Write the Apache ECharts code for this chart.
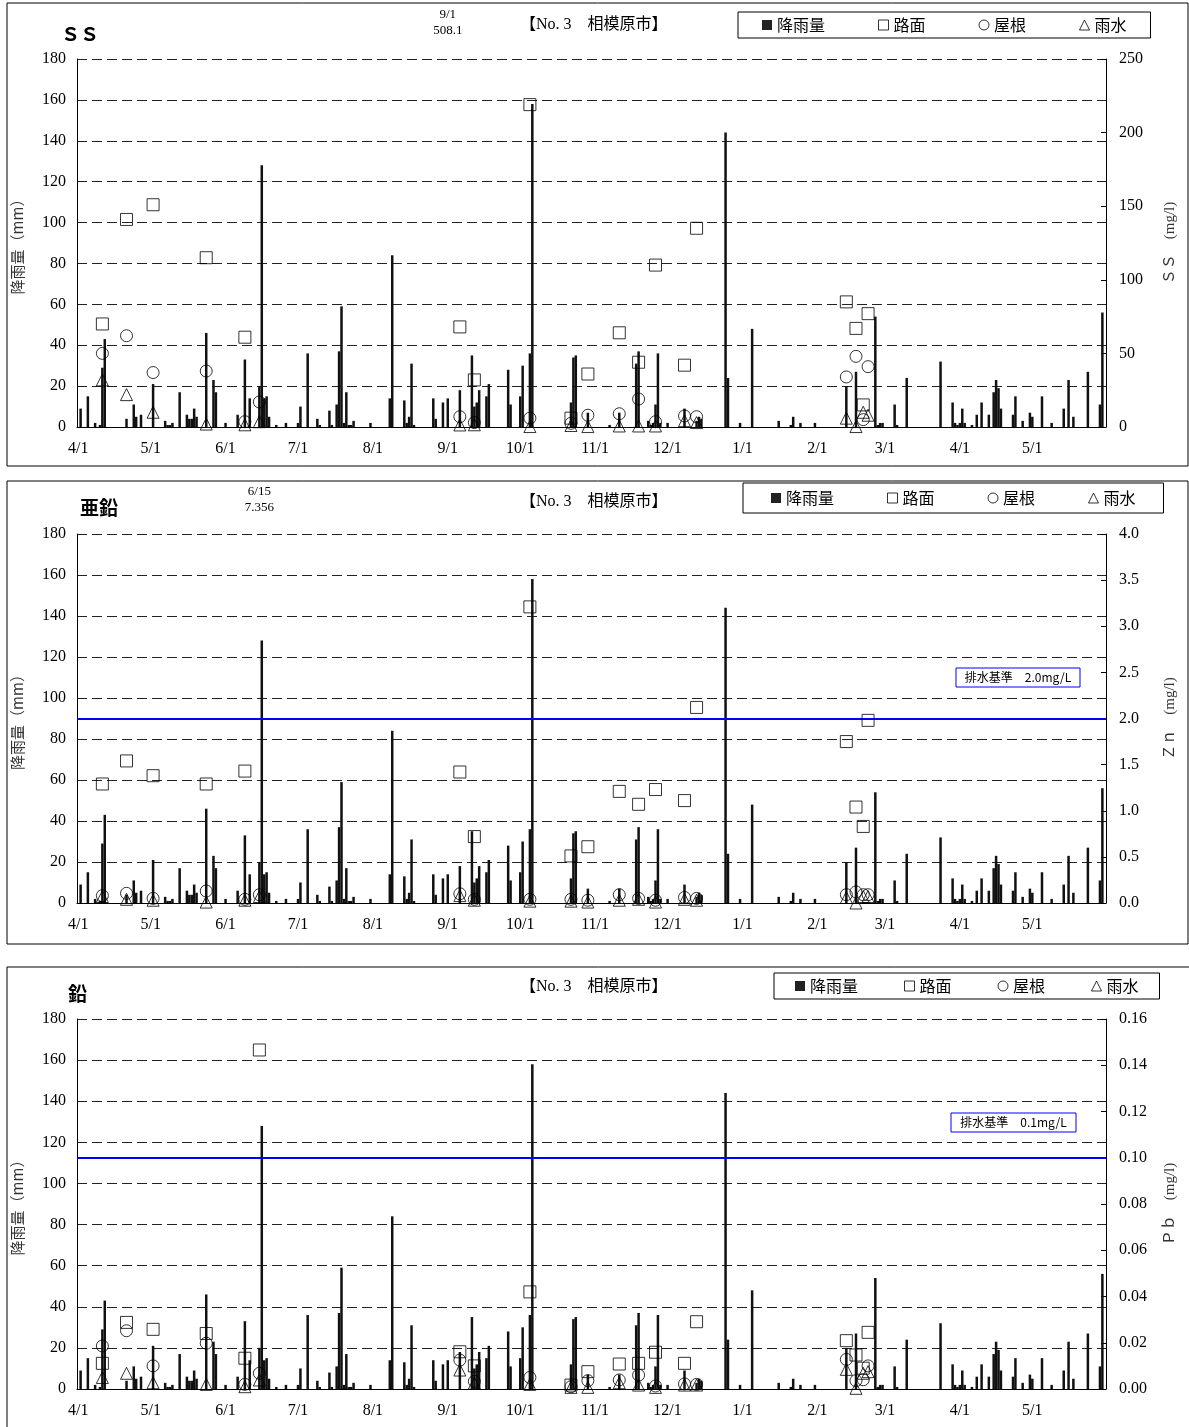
<!DOCTYPE html>
<html>
<head>
<meta charset="utf-8">
<script src="https://cdn.jsdelivr.net/npm/echarts@6/dist/echarts.min.js"></script>
<style>
  html, body { margin: 0; padding: 0; background: #fff; }
  #chart { width: 1189px; height: 1427px; }
</style>
</head>
<body>
<div id="chart"></div>
<script>
const SERIF = '"Liberation Serif", "DejaVu Serif", "Noto Sans CJK JP", serif';
const GOTHIC = '"Noto Sans CJK JP", "Noto Sans", sans-serif';

// one category per day, 4/1 .. 5/31 of the next year
const days = [];
{
  const d = new Date(2010, 3, 1);
  while (days.length < 426) {
    days.push((d.getMonth() + 1) + '/' + d.getDate());
    d.setDate(d.getDate() + 1);
  }
}

// daily rainfall (mm), day index counted from 4/1
const rainDay = [1, 4, 7, 9, 10, 11, 20, 23, 24, 26, 31, 36, 37, 38, 39, 42, 45, 46, 47, 48, 49,
  53, 56, 57, 61, 66, 69, 71, 75, 76, 77, 78, 79, 82, 86, 91, 92, 95, 99, 100, 104, 105,
  107, 108, 109, 110, 111, 112, 113, 114, 121, 129, 130, 135, 136, 137, 138, 139, 147, 148,
  151, 153, 158, 163, 164, 165, 166, 169, 170, 178, 179, 183, 184, 187, 188, 204, 205, 206,
  211, 220, 224, 231, 232, 236, 237, 238, 239, 240, 241, 244, 251, 256, 257, 258, 268, 269,
  274, 279, 290, 295, 296, 299, 305, 318, 322, 330, 331, 332, 333, 338, 339, 343, 357, 362,
  363, 364, 365, 366, 367, 370, 372, 374, 377, 379, 380, 381, 382, 387, 388, 391, 394, 395,
  399, 403, 408, 410, 412, 418, 423, 424];
const rainMm = [9, 15, 2, 1, 29, 43, 4, 11, 5, 6, 21, 3, 1, 1, 2, 17, 6, 4, 4, 9, 5,
  46, 23, 17, 2, 6, 33, 14, 20, 128, 14, 15, 5, 1, 2, 2, 10, 36, 4, 1, 8, 1,
  11, 37, 59, 2, 17, 1, 1, 3, 2, 14, 84, 13, 2, 5, 31, 1, 14, 4,
  12, 14, 18, 35, 10, 12, 18, 15, 21, 28, 11, 15, 30, 36, 158, 12, 34, 35,
  7, 1, 7, 31, 37, 3, 1, 2, 11, 36, 2, 2, 9, 3, 5, 4, 144, 24,
  2, 48, 3, 1, 5, 2, 2, 20, 27, 54, 1, 2, 2, 11, 1, 24, 32, 12,
  2, 1, 2, 9, 2, 1, 6, 12, 6, 17, 23, 19, 9, 6, 15, 3, 7, 5,
  15, 2, 9, 23, 5, 27, 11, 56];

// sampling days (index from 4/1) and concentrations (mg/l)
const sampleDay = [10, 20, 31, 53, 69, 75, 158, 164, 187, 204, 211, 224, 232, 239, 251, 256, 318, 322, 325, 327];
const ssRoad = [70, 141, 151, 115, 61, null, 68, 32, 219, 6, 36, 64, 44, 110, 42, 135, 85, 67, 15, 77];
const ssRoof = [50, 62, 37, 38, 3.6, 17, 7, 3, 6, 2.5, 8, 9, 19, 3.6, 7.5, 7, 34, 48, 5, 41];
const ssRain = [32, 22, 10, 2, 1.5, 3.6, 1.4, 1.5, 0.3, 1, 0.3, 0.7, 0.7, 0.7, 4.3, 3, 6, 0.3, 10, 8];
const znRoad = [1.29, 1.54, 1.38, 1.29, 1.43, null, 1.42, 0.72, 3.21, 0.51, 0.61, 1.21, 1.07, 1.23, 1.11, 2.12, 1.75, 1.04, 0.83, 1.98];
const znRoof = [0.08, 0.105, 0.05, 0.13, 0.04, 0.09, 0.1, 0.04, 0.04, 0.04, 0.03, 0.09, 0.05, 0.03, 0.06, 0.05, 0.09, 0.12, 0.09, 0.09];
const znRain = [0.07, 0.04, 0.03, 0.01, 0.03, 0.07, 0.08, 0.03, 0.02, 0.02, 0.01, 0.03, 0.04, 0.01, 0.04, 0.03, 0.06, 0.0, 0.07, 0.07];
const pbRoad = [0.0111, 0.0288, 0.0258, 0.024, 0.0133, 0.1466, 0.0161, 0.01, 0.042, 0.0017, 0.0075, 0.0108, 0.0111, 0.0159, 0.0111, 0.0291, 0.0209, 0.0147, 0.009, 0.0245];
const pbRoof = [0.0186, 0.0252, 0.01, 0.0198, 0.002, 0.0068, 0.0125, 0.0033, 0.005, 0.001, 0.0036, 0.0039, 0.006, 0.0013, 0.0022, 0.002, 0.0128, 0.0036, 0.004, 0.01];
const pbRain = [0.005, 0.0068, 0.0027, 0.002, 0.001, 0.0039, 0.0082, 0.0025, 0.002, 0.0007, 0.0007, 0.0027, 0.0017, 0.0007, 0.0017, 0.0017, 0.0085, 0.0003, 0.0068, 0.0075];

const dailyRain = days.map(() => 0);
rainDay.forEach((d, i) => { dailyRain[d] = rainMm[i]; });

const panels = [
  { title: 'ＳＳ', titleLeft: 61, titleTop: 24, subTop: 17, top: 59, height: 368,
    right: { max: 250, interval: 50, digits: 0, name: 'ＳＳ　(mg/l)' },
    road: ssRoad, roof: ssRoof, rain: ssRain,
    over: { day: '9/1', text: '9/1\n508.1', dist: 20 },
    legend: { left: 738, top: 12, gap: 53, pad: [5, 24] } },
  { title: '亜鉛', titleLeft: 80, titleTop: 498, subTop: 494, top: 534, height: 369,
    right: { max: 4, interval: 0.5, digits: 1, name: 'Ｚｎ　(mg/l)' },
    road: znRoad, roof: znRoof, rain: znRain,
    over: { day: '6/15', text: '6/15\n7.356', dist: 18 },
    limit: 2.0,
    legend: { left: 743, top: 483, gap: 53, pad: [7, 28] } },
  { title: '鉛', titleLeft: 68, titleTop: 984, subTop: 979, top: 1019, height: 370,
    right: { max: 0.16, interval: 0.02, digits: 2, name: 'Ｐｂ　(mg/l)' },
    road: pbRoad, roof: pbRoof, rain: pbRain,
    limit: 0.1,
    legend: { left: 774, top: 973, gap: 46, pad: [5, 21] } },
];

const pts = vals => sampleDay.map((d, k) => vals[k] == null ? null : [d, vals[k]]).filter(Boolean);
const hollow = { color: 'rgba(0,0,0,0)', borderColor: '#000', borderWidth: 1 };
const legendIcon = { color: '#fff', borderColor: '#000', borderWidth: 1 };

const option = {
  animation: false,
  title: [], legend: [], grid: [], xAxis: [], yAxis: [], series: [],
  graphic: [],
};

panels.forEach((p, i) => {
  option.title.push({
    text: p.title, left: p.titleLeft, top: p.titleTop, padding: 0,
    textStyle: { fontFamily: GOTHIC, fontSize: 19, fontWeight: 'bold', color: '#000' },
  });
  option.title.push({
    text: '【No. 3　相模原市】', left: 520, top: p.subTop, padding: 0,
    textStyle: { fontFamily: SERIF, fontSize: 16, fontWeight: 'normal', color: '#000' },
  });
  option.legend.push({
    left: p.legend.left, top: p.legend.top, orient: 'horizontal',
    padding: p.legend.pad, itemGap: p.legend.gap, itemWidth: 10, itemHeight: 10,
    borderColor: '#000', borderWidth: 1, backgroundColor: '#fff',
    selectedMode: false,
    textStyle: { fontFamily: GOTHIC, fontSize: 16, color: '#000' },
    data: [
      { name: '降雨量', icon: 'rect', itemStyle: { color: '#222', borderWidth: 0 } },
      { name: '路面', icon: 'rect', itemStyle: legendIcon },
      { name: '屋根', icon: 'circle', itemStyle: legendIcon },
      { name: '雨水', icon: 'triangle', itemStyle: legendIcon },
    ],
  });
  option.grid.push({ left: 77, top: p.top, width: 1029, height: p.height });
  option.xAxis.push({
    type: 'category', gridIndex: i, data: days, boundaryGap: true,
    axisLine: { lineStyle: { color: '#000', width: 1 } },
    axisTick: { show: false },
    axisLabel: {
      interval: (idx, v) => v.split('/')[1] === '1',
      margin: 14, fontFamily: SERIF, fontSize: 16, color: '#000',
    },
    splitLine: { show: false },
  });
  option.yAxis.push({
    type: 'value', gridIndex: i, min: 0, max: 180, interval: 20,
    name: '降雨量（mm）', nameLocation: 'middle', nameRotate: 90, nameGap: 52,
    nameTextStyle: { fontFamily: GOTHIC, fontSize: 15, color: '#333' },
    axisLine: { show: true, lineStyle: { color: '#000', width: 1 } },
    axisTick: { show: false },
    axisLabel: { margin: 11, fontFamily: SERIF, fontSize: 16, color: '#000' },
    splitLine: { show: true, lineStyle: { color: '#222', type: [10, 5], width: 1 } },
  });
  option.yAxis.push({
    type: 'value', gridIndex: i, position: 'right', min: 0, max: p.right.max, interval: p.right.interval,
    name: p.right.name, nameLocation: 'middle', nameRotate: 90, nameGap: 57,
    nameTextStyle: { fontFamily: SERIF, fontSize: 15, color: '#333' },
    axisLine: { show: true, lineStyle: { color: '#000', width: 1 } },
    axisTick: { show: true, inside: true, length: 5, lineStyle: { color: '#000' } },
    axisLabel: { margin: 13, fontFamily: SERIF, fontSize: 16, color: '#000',
      formatter: v => v.toFixed(p.right.digits) },
    splitLine: { show: false },
  });

  option.series.push({
    name: '降雨量', type: 'bar', xAxisIndex: i, yAxisIndex: 2 * i,
    data: dailyRain, barWidth: 2.5, itemStyle: { color: '#111' },
    silent: true, emphasis: { disabled: true },
  });
  const road = {
    name: '路面', type: 'scatter', xAxisIndex: i, yAxisIndex: 2 * i + 1,
    data: pts(p.road), symbol: 'rect', symbolSize: 12, itemStyle: hollow,
    silent: true, z: 5,
  };
  if (p.over) {
    road.markPoint = {
      symbol: 'circle', symbolSize: 0, silent: true,
      data: [{ coord: [p.over.day, p.right.max] }],
      label: { show: true, position: 'top', distance: p.over.dist, formatter: p.over.text,
        fontFamily: SERIF, fontSize: 13, lineHeight: 16, color: '#000', align: 'center' },
    };
  }
  if (p.limit != null) {
    road.markLine = {
      silent: true, symbol: 'none', animation: false,
      lineStyle: { color: '#0000ff', width: 2, type: 'solid' },
      label: { show: false },
      data: [{ yAxis: p.limit }],
    };
  }
  option.series.push(road);
  option.series.push({
    name: '屋根', type: 'scatter', xAxisIndex: i, yAxisIndex: 2 * i + 1,
    data: pts(p.roof), symbol: 'circle', symbolSize: 12, itemStyle: hollow,
    silent: true, z: 5,
  });
  option.series.push({
    name: '雨水', type: 'scatter', xAxisIndex: i, yAxisIndex: 2 * i + 1,
    data: pts(p.rain), symbol: 'triangle', symbolSize: 12, itemStyle: hollow,
    silent: true, z: 5,
  });
});

// panel frames
[[7, 3, 1181, 463], [7, 481, 1181, 463], [7, 967, 1200, 480]].forEach(([x, y, w, h]) => {
  option.graphic.push({ type: 'rect', shape: { x, y, width: w, height: h }, silent: true, z: -1,
    style: { fill: 'none', stroke: '#000', lineWidth: 1 } });
});
// effluent standard boxes
[[956, 668, 124, 19, '排水基準　2.0mg/L'], [951, 1113, 125, 19, '排水基準　0.1mg/L']].forEach(([x, y, w, h, t]) => {
  option.graphic.push({ type: 'rect', shape: { x, y, width: w, height: h }, silent: true, z: 10,
    style: { fill: '#fff', stroke: '#0000ff', lineWidth: 1 } });
  option.graphic.push({ type: 'text', x: x + w / 2, y: y + h / 2, silent: true, z: 11,
    style: { text: t, fill: '#000', font: '12px ' + GOTHIC, textAlign: 'center', textVerticalAlign: 'middle' } });
});

const chart = echarts.init(document.getElementById('chart'), null, { renderer: 'canvas' });
chart.setOption(option);
</script>
</body>
</html>
